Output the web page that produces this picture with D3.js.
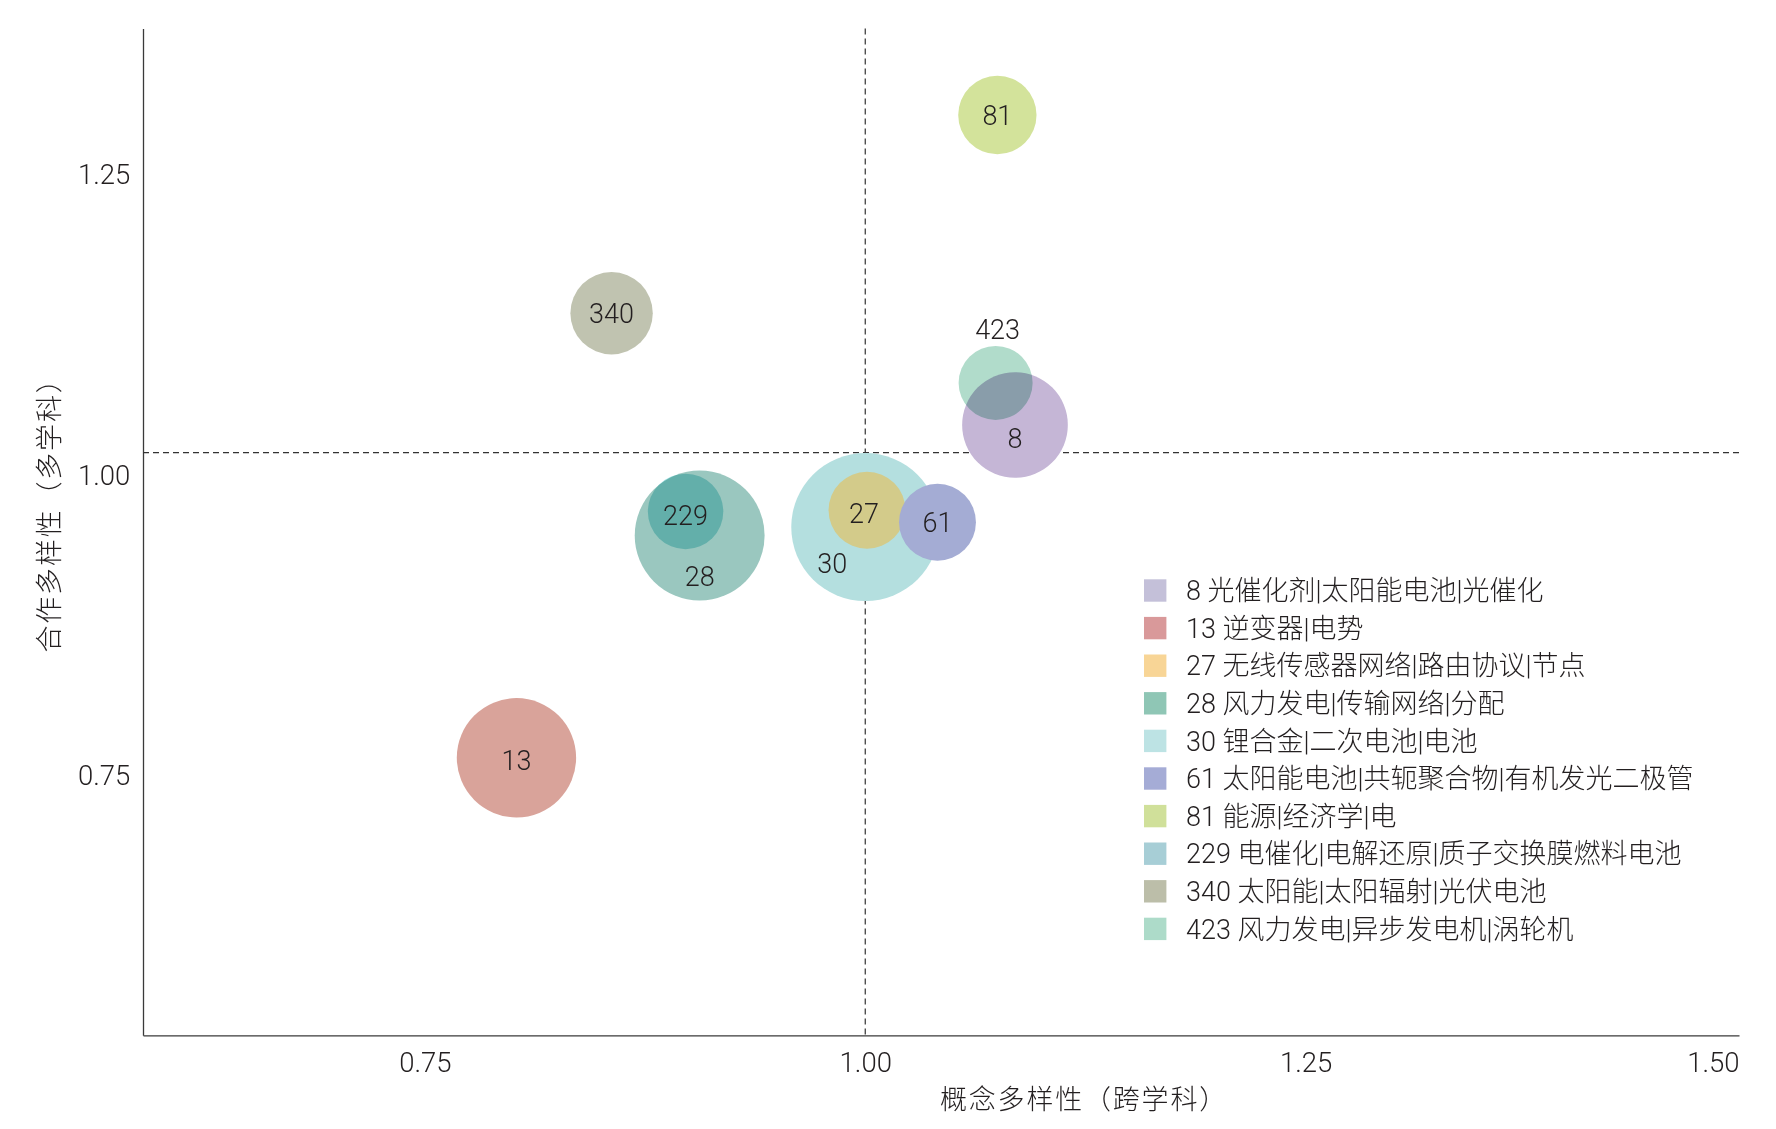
<!DOCTYPE html>
<html lang="zh">
<head>
  <meta charset="UTF-8">
  <title>概念多样性与合作多样性</title>
  <style>
    body { margin: 0; background: #fff; }
    svg { display: block; }
    text { font-family: Roboto, "Noto Sans CJK SC", sans-serif; font-weight: 300; fill: #231f20; }
  </style>
</head>
<body>
  <svg id="chart"></svg>
  <script src="https://cdn.jsdelivr.net/npm/d3@7"></script>
  <script>
    // cluster ids and their top keywords
    var ids = [8, 13, 27, 28, 30, 61, 81, 229, 340, 423];
    var topics = [
      "光催化剂|太阳能电池|光催化",
      "逆变器|电势",
      "无线传感器网络|路由协议|节点",
      "风力发电|传输网络|分配",
      "锂合金|二次电池|电池",
      "太阳能电池|共轭聚合物|有机发光二极管",
      "能源|经济学|电",
      "电催化|电解还原|质子交换膜燃料电池",
      "太阳能|太阳辐射|光伏电池",
      "风力发电|异步发电机|涡轮机"
    ];
    // x: 概念多样性, y: 合作多样性, size: bubble size
    var conceptDiv = [1.085, 0.802, 1.001, 0.906, 1.000, 1.041, 1.075, 0.898, 0.856, 1.074];
    var collabDiv  = [1.042, 0.765, 0.971, 0.950, 0.957, 0.961, 1.300, 0.970, 1.135, 1.077];
    var sizes      = [51, 65, 27, 77, 100, 27, 28, 26, 31, 25];

    var xTicks = [0.75, 1.00, 1.25, 1.50];
    var yTicks = [0.75, 1.00, 1.25];
    var meanX = 1.00, meanY = 1.019;

    // palettes
    var bubbleFill = ["#c5b6d6", "#d9a39a", "#d3cb8a", "#9ac7bf", "#b4dfdf",
                      "#a4acd4", "#d3e39b", "#a3e1e3", "#c0c3b0", "#b1dccb"];
    var legendFill = ["#c4c0d9", "#d9999a", "#f8d596", "#8fc6b5", "#bde3e4",
                      "#a5acd6", "#d0e09a", "#a7ced6", "#bcbea9", "#addbc9"];
    var multiplyIds = [229, 423];
    // label nudges (px) where labels would collide
    var nudge = { 423: [2, -54], 8: [0, 13], 28: [0, 41], 30: [-33, 36], 27: [-3, 3], 229: [0, 4], 13: [0, 3] };

    var width = 1776, height = 1129;
    var mLeft = 143, mRight = 1739, mTop = 28.5, mBottom = 1035.3;
    var tickFont = 27.5, labelFont = 27, legendFont = 27;

    var svg = d3.select("#chart").attr("width", width).attr("height", height);

    var x = d3.scaleLinear().domain([0.59, 1.496]).range([mLeft, mRight]).clamp(true);
    var y = d3.scaleLinear().domain([0.534, 1.372]).range([mBottom, mTop]);
    var r = d3.scaleSqrt().domain([0, 100]).range([0, 74]);

    var data = ids.map(function (id, i) {
      return { id: id, topic: topics[i], cx: conceptDiv[i], cy: collabDiv[i], size: sizes[i],
               fill: bubbleFill[i], legend: legendFill[i] };
    });

    // axes
    var xAxis = svg.append("g")
      .attr("transform", "translate(0," + mBottom + ")")
      .call(d3.axisBottom(x).tickValues(xTicks).tickFormat(d3.format(".2f"))
        .tickSize(0).tickPadding(17));
    var yAxis = svg.append("g")
      .attr("transform", "translate(" + mLeft + ",0)")
      .call(d3.axisLeft(y).tickValues(yTicks).tickFormat(d3.format(".2f"))
        .tickSize(0).tickPadding(12.7));
    [xAxis, yAxis].forEach(function (g) {
      g.select(".domain").attr("stroke", "#3a3a3a").attr("stroke-width", 1.3);
      g.selectAll("text").attr("font-size", tickFont).attr("font-family", null);
    });
    xAxis.selectAll(".tick text").filter(function (d) { return d === 1.5; })
      .attr("text-anchor", "end");

    // mean lines
    svg.append("line")
      .attr("x1", x(meanX)).attr("x2", x(meanX))
      .attr("y1", mTop).attr("y2", mBottom)
      .attr("stroke", "#333").attr("stroke-width", 1.2).attr("stroke-dasharray", "6,4");
    svg.append("line")
      .attr("x1", mLeft).attr("x2", mRight)
      .attr("y1", y(meanY)).attr("y2", y(meanY))
      .attr("stroke", "#333").attr("stroke-width", 1.2).attr("stroke-dasharray", "6,4");

    // bubbles, big ones first
    var ordered = data.slice().sort(function (a, b) { return b.size - a.size; });
    svg.append("g").selectAll("circle")
      .data(ordered)
      .enter()
      .append("circle")
      .attr("cx", function (d) { return x(d.cx); })
      .attr("cy", function (d) { return y(d.cy); })
      .attr("r", function (d) { return r(d.size); })
      .attr("fill", function (d) { return d.fill; })
      .style("mix-blend-mode", function (d) { return multiplyIds.indexOf(d.id) >= 0 ? "multiply" : null; });

    svg.append("g").selectAll("text")
      .data(ordered)
      .enter()
      .append("text")
      .attr("x", function (d) { return x(d.cx) + (nudge[d.id] ? nudge[d.id][0] : 0); })
      .attr("y", function (d) { return y(d.cy) + (nudge[d.id] ? nudge[d.id][1] : 0); })
      .attr("dy", "0.36em")
      .attr("text-anchor", "middle")
      .attr("font-size", labelFont)
      .text(function (d) { return d.id; });

    // legend
    var legend = svg.append("g").attr("transform", "translate(1144,590.5)");
    var row = legend.selectAll("g")
      .data(data)
      .enter()
      .append("g")
      .attr("transform", function (d, i) { return "translate(0," + (i * 37.6) + ")"; });
    row.append("rect")
      .attr("x", 0).attr("y", -11.2)
      .attr("width", 22.4).attr("height", 22.4)
      .attr("fill", function (d) { return d.legend; });
    row.append("text")
      .attr("x", 42).attr("dy", "0.36em")
      .attr("font-size", legendFont)
      .text(function (d) { return d.id + " " + d.topic; });

    // axis titles
    svg.append("text")
      .attr("x", 940).attr("y", 1099).attr("dy", "0.36em")
      .attr("font-size", 27).attr("letter-spacing", 1.8)
      .text("概念多样性（跨学科）");
    svg.append("text")
      .attr("transform", "translate(49,508.5) rotate(-90)")
      .attr("dy", "0.36em")
      .attr("text-anchor", "middle")
      .attr("font-size", 27).attr("letter-spacing", 1.8)
      .text("合作多样性（多学科）");
  </script>
</body>
</html>
